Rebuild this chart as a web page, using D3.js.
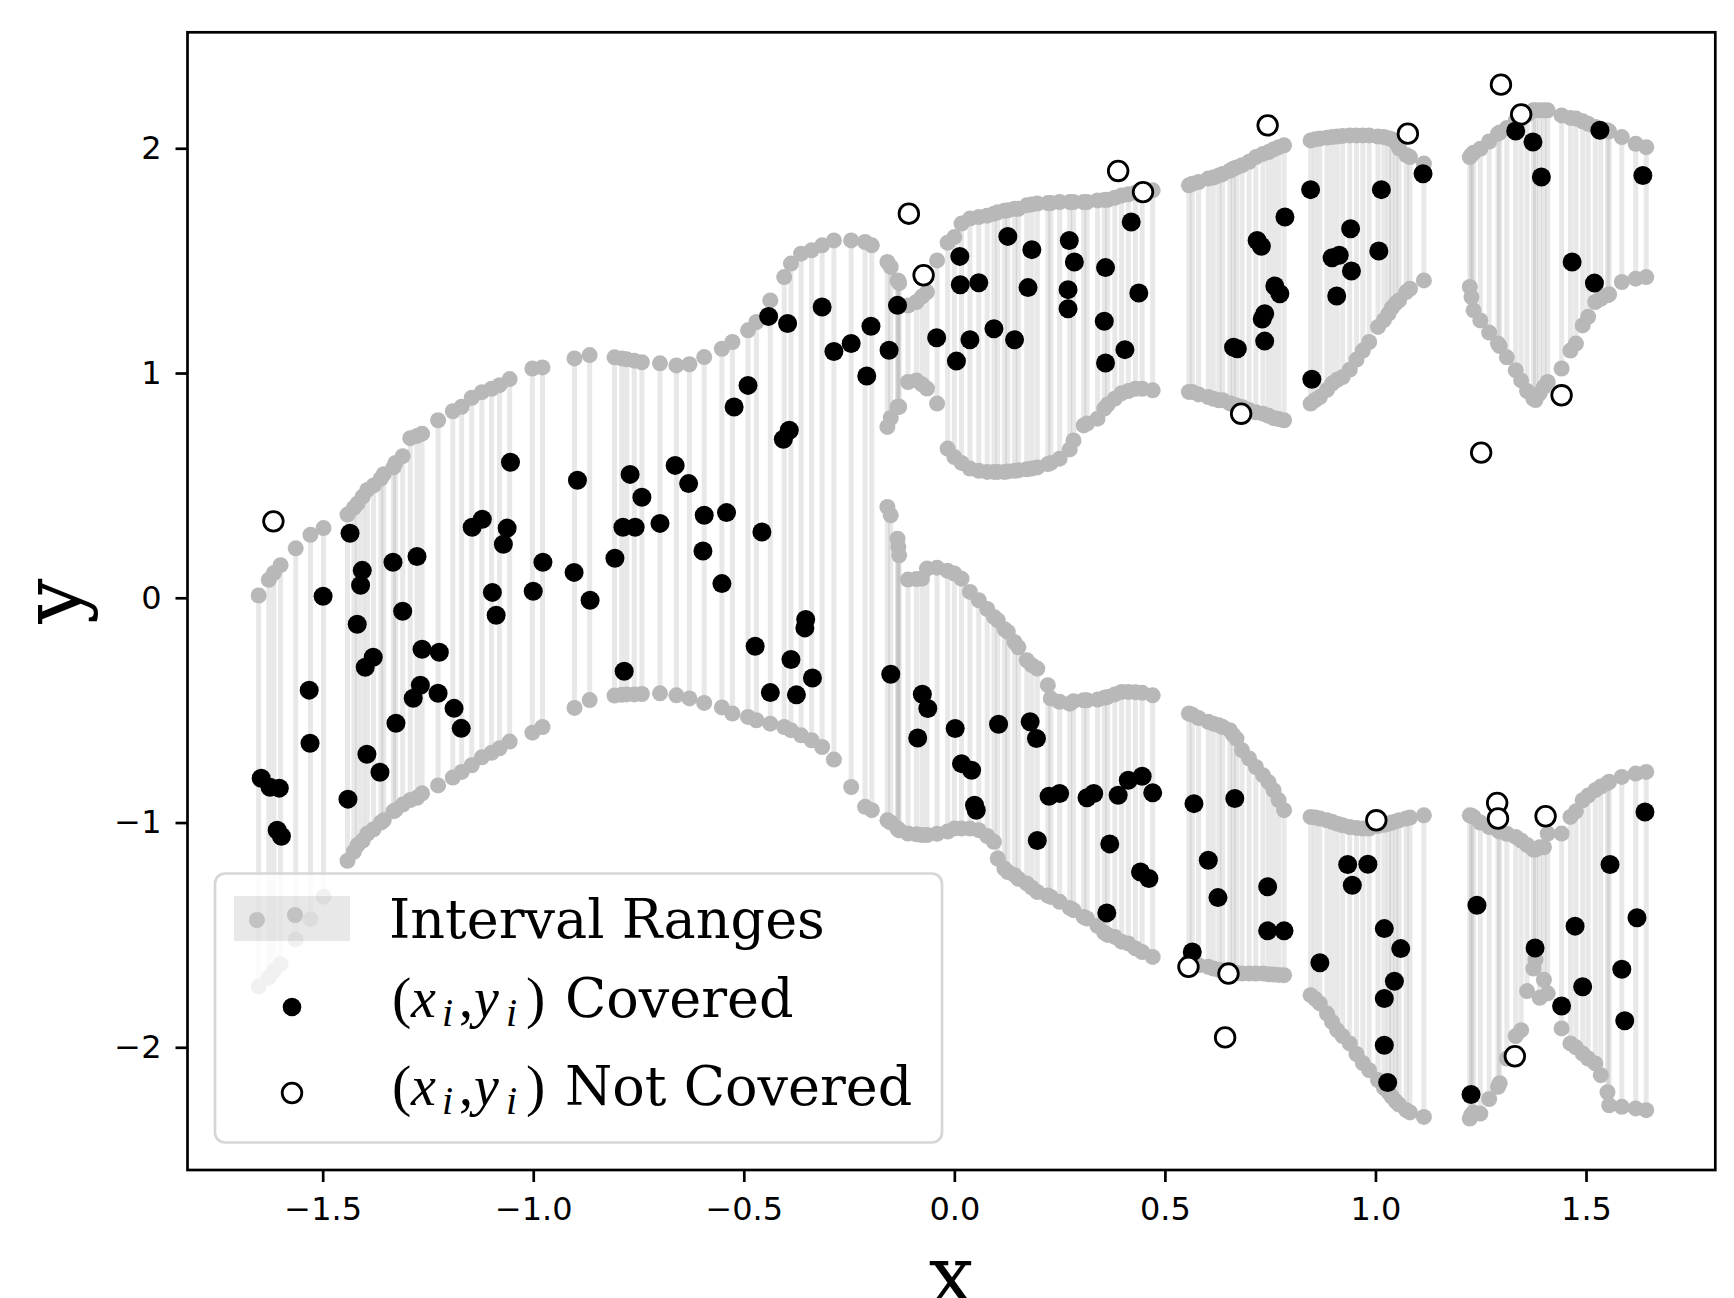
<!DOCTYPE html>
<html>
<head>
<meta charset="utf-8">
<script src="https://cdn.jsdelivr.net/npm/d3@7"></script>
<style>
  html, body { margin: 0; padding: 0; background: #fff; }
  svg { display: block; }
</style>
</head>
<body>
<div class="chart"></div>
<script>
var xTicks = [-1.5, -1.0, -0.5, 0.0, 0.5, 1.0, 1.5];
var yTicks = [-2, -1, 0, 1, 2];

// columns where the prediction set is a single interval
var singleX = [-1.652, -1.628, -1.616, -1.600, -1.564, -1.529, -1.498, -1.441, -1.426, -1.417, -1.405, -1.394, -1.379, -1.362, -1.355, -1.332, -1.327, -1.310, -1.292, -1.276, -1.264, -1.226, -1.191, -1.170, -1.146, -1.122, -1.099, -1.080, -1.056, -1.002, -0.978, -0.902, -0.866, -0.807, -0.790, -0.778, -0.760, -0.742, -0.699, -0.660, -0.629, -0.594, -0.552, -0.527, -0.490, -0.470, -0.437, -0.404, -0.388, -0.364, -0.339, -0.314, -0.286, -0.245, -0.212, -0.196];
var singleLo = [-1.73, -1.69, -1.66, -1.63, -1.52, -1.43, -1.33, -1.17, -1.13, -1.10, -1.08, -1.05, -1.03, -1.00, -0.99, -0.95, -0.945, -0.92, -0.90, -0.89, -0.87, -0.835, -0.80, -0.775, -0.745, -0.71, -0.69, -0.67, -0.64, -0.60, -0.575, -0.49, -0.455, -0.435, -0.432, -0.43, -0.43, -0.428, -0.425, -0.434, -0.448, -0.468, -0.488, -0.515, -0.53, -0.545, -0.56, -0.575, -0.589, -0.612, -0.634, -0.664, -0.72, -0.842, -0.93, -0.945];
var singleHi = [0.01, 0.08, 0.11, 0.145, 0.22, 0.28, 0.31, 0.37, 0.40, 0.42, 0.45, 0.48, 0.50, 0.53, 0.55, 0.58, 0.60, 0.63, 0.71, 0.72, 0.73, 0.79, 0.83, 0.85, 0.89, 0.915, 0.93, 0.946, 0.973, 1.02, 1.025, 1.065, 1.08, 1.07, 1.065, 1.061, 1.055, 1.048, 1.043, 1.034, 1.039, 1.071, 1.108, 1.138, 1.19, 1.227, 1.323, 1.427, 1.487, 1.531, 1.546, 1.568, 1.59, 1.59, 1.583, 1.568];

// columns where the prediction set splits into a lower and an upper interval
var splitX = [-0.159, -0.151, -0.135, -0.133, -0.131, -0.110, -0.090, -0.077, -0.065, -0.041, -0.016, 0.000, 0.017, 0.037, 0.058, 0.078, 0.094, 0.103, 0.119, 0.127, 0.143, 0.152, 0.172, 0.184, 0.197, 0.222, 0.229, 0.250, 0.274, 0.283, 0.307, 0.315, 0.340, 0.356, 0.364, 0.381, 0.397, 0.413, 0.430, 0.446, 0.471,
  0.557, 0.565, 0.580, 0.603, 0.615, 0.628, 0.637, 0.654, 0.662, 0.670, 0.683, 0.700, 0.716, 0.733, 0.746, 0.758, 0.770, 0.783,
  0.846, 0.857, 0.868, 0.885, 0.897, 0.909, 0.922, 0.939, 0.955, 0.970, 0.985, 1.006, 1.020, 1.031, 1.039, 1.048, 1.056, 1.073, 1.082, 1.115,
  1.224, 1.228, 1.233, 1.249, 1.270, 1.291, 1.295, 1.312, 1.333, 1.346, 1.360, 1.375, 1.380, 1.390, 1.400, 1.409, 1.442, 1.463, 1.476, 1.492, 1.505, 1.522, 1.535, 1.551, 1.555, 1.585, 1.618, 1.643];
var splitLowLo = [-0.99, -1.00, -1.027, -1.03, -1.035, -1.049, -1.052, -1.056, -1.056, -1.05, -1.04, -1.027, -1.027, -1.027, -1.034, -1.06, -1.086, -1.16, -1.205, -1.22, -1.234, -1.25, -1.271, -1.29, -1.309, -1.325, -1.331, -1.353, -1.38, -1.39, -1.42, -1.427, -1.46, -1.49, -1.50, -1.509, -1.53, -1.538, -1.56, -1.576, -1.598,
  -1.62, -1.63, -1.635, -1.642, -1.65, -1.655, -1.66, -1.665, -1.668, -1.67, -1.672, -1.672, -1.672, -1.672, -1.675, -1.676, -1.678, -1.679,
  -1.768, -1.785, -1.805, -1.85, -1.887, -1.924, -1.95, -1.983, -2.03, -2.07, -2.102, -2.146, -2.18, -2.20, -2.221, -2.24, -2.255, -2.28, -2.29, -2.31,
  -2.317, -2.30, -2.29, -2.295, -2.23, -2.176, -2.16, -2.05, -1.95, -1.924, -1.75, -1.65, -1.61, -1.78, -1.70, -1.76, -1.916, -1.983, -2.0, -2.028, -2.05, -2.072, -2.124, -2.2, -2.258, -2.265, -2.272, -2.28];
var splitLowHi = [0.404, 0.367, 0.263, 0.226, 0.189, 0.081, 0.083, 0.085, 0.130, 0.134, 0.12, 0.108, 0.085, 0.026, -0.011, -0.05, -0.085, -0.10, -0.14, -0.152, -0.197, -0.22, -0.278, -0.30, -0.315, -0.389, -0.448, -0.463, -0.471, -0.46, -0.456, -0.456, -0.453, -0.445, -0.441, -0.43, -0.419, -0.419, -0.42, -0.423, -0.434,
  -0.515, -0.52, -0.535, -0.552, -0.56, -0.567, -0.575, -0.589, -0.61, -0.627, -0.678, -0.715, -0.753, -0.79, -0.82, -0.856, -0.90, -0.945,
  -0.975, -0.978, -0.982, -0.99, -0.997, -1.005, -1.012, -1.02, -1.024, -1.027, -1.027, -1.015, -1.01, -1.005, -1.0, -0.995, -0.99, -0.982, -0.978, -0.968,
  -0.968, -0.97, -0.975, -1.0, -1.02, -1.034, -1.04, -1.05, -1.064, -1.08, -1.10, -1.12, -1.12, -1.11, -1.11, -1.049, -1.049, -0.975, -0.95, -0.901, -0.88, -0.856, -0.84, -0.825, -0.819, -0.797, -0.782, -0.775];
var splitUpLo = [0.76, 0.80, 0.849, 0.85, 0.85, 0.96, 0.967, 0.95, 0.931, 0.864, 0.664, 0.626, 0.60, 0.575, 0.565, 0.56, 0.56, 0.56, 0.56, 0.562, 0.565, 0.567, 0.572, 0.575, 0.58, 0.595, 0.60, 0.619, 0.66, 0.70, 0.767, 0.775, 0.797, 0.842, 0.86, 0.886, 0.91, 0.92, 0.93, 0.93, 0.923,
  0.916, 0.916, 0.905, 0.893, 0.885, 0.879, 0.879, 0.865, 0.86, 0.855, 0.849, 0.835, 0.825, 0.819, 0.81, 0.80, 0.795, 0.790,
  0.864, 0.88, 0.893, 0.925, 0.953, 0.97, 0.982, 1.015, 1.06, 1.10, 1.138, 1.205, 1.235, 1.264, 1.29, 1.31, 1.323, 1.36, 1.375, 1.412,
  1.383, 1.338, 1.279, 1.234, 1.18, 1.131, 1.12, 1.07, 1.012, 0.967, 0.92, 0.886, 0.88, 0.91, 0.938, 0.96, 1.02, 1.10, 1.131, 1.212, 1.25, 1.316, 1.33, 1.346, 1.35, 1.405, 1.42, 1.427];
var splitUpHi = [1.494, 1.472, 1.412, 1.41, 1.40, 1.30, 1.316, 1.34, 1.36, 1.501, 1.58, 1.605, 1.665, 1.687, 1.694, 1.70, 1.709, 1.715, 1.722, 1.724, 1.731, 1.731, 1.746, 1.75, 1.754, 1.756, 1.756, 1.761, 1.761, 1.761, 1.761, 1.761, 1.768, 1.77, 1.771, 1.78, 1.79, 1.795, 1.803, 1.81, 1.813,
  1.835, 1.842, 1.85, 1.865, 1.87, 1.879, 1.885, 1.90, 1.909, 1.915, 1.924, 1.94, 1.961, 1.975, 1.983, 1.995, 2.005, 2.013,
  2.035, 2.04, 2.043, 2.047, 2.05, 2.052, 2.055, 2.057, 2.057, 2.057, 2.057, 2.052, 2.05, 2.045, 2.04, 2.028, 2.0, 1.97, 1.961, 1.932,
  1.961, 1.97, 1.98, 1.998, 2.03, 2.065, 2.07, 2.09, 2.124, 2.13, 2.15, 2.169, 2.169, 2.169, 2.169, 2.169, 2.146, 2.135, 2.132, 2.12, 2.109, 2.095, 2.085, 2.08, 2.075, 2.05, 2.02, 2.005];

var covered = [
  [-1.054, 0.603], [-0.895, 0.523], [-0.770, 0.549], [-0.742, 0.447], [-0.787, 0.314], [-0.758, 0.314], [-0.699, 0.331], [-0.806, 0.176], [-0.663, 0.589],
  [-1.435, 0.287], [-1.333, 0.158], [-1.276, 0.184], [-1.406, 0.122], [-1.410, 0.056], [-1.499, 0.007], [-1.310, -0.06], [-1.418, -0.118], [-1.380, -0.265],
  [-1.399, -0.309], [-1.264, -0.229], [-1.223, -0.242], [-1.268, -0.389], [-1.285, -0.447], [-1.226, -0.425], [-1.188, -0.492], [-1.171, -0.581], [-1.532, -0.411],
  [-1.530, -0.647], [-1.326, -0.558], [-1.395, -0.696], [-1.364, -0.776], [-1.440, -0.896], [-1.646, -0.803], [-1.625, -0.843], [-1.603, -0.847], [-1.608, -1.034],
  [-1.598, -1.061], [-1.145, 0.314], [-1.121, 0.349], [-1.062, 0.310], [-1.071, 0.238], [-1.097, 0.024], [-1.088, -0.078], [-1.000, 0.029], [-0.977, 0.158],
  [-0.903, 0.113], [-0.865, -0.011], [-0.784, -0.327],
  [0.013, 1.519], [0.127, 1.608], [0.184, 1.549], [0.273, 1.590], [0.285, 1.494], [0.359, 1.469], [0.420, 1.672], [0.438, 1.356], [0.175, 1.380],
  [0.014, 1.393], [0.058, 1.402], [0.270, 1.371], [0.270, 1.286], [0.356, 1.230], [0.405, 1.104], [0.359, 1.045], [0.094, 1.197], [0.143, 1.148],
  [0.037, 1.148], [0.005, 1.053], [-0.042, 1.157], [-0.135, 1.301], [-0.198, 1.208], [-0.155, 1.101], [-0.245, 1.131], [-0.286, 1.096], [-0.208, 0.987],
  [-0.314, 1.294], [-0.396, 1.220], [-0.441, 1.252], [-0.490, 0.945], [-0.523, 0.849], [-0.392, 0.745], [-0.406, 0.705],
  [-0.631, 0.508], [-0.594, 0.367], [-0.541, 0.379], [-0.457, 0.293], [-0.597, 0.208], [-0.552, 0.063], [-0.353, -0.097], [-0.355, -0.134], [-0.473, -0.216],
  [-0.388, -0.275], [-0.337, -0.357], [-0.437, -0.422], [-0.375, -0.432], [-0.151, -0.340], [-0.076, -0.429], [-0.063, -0.493], [-0.087, -0.624], [0.002, -0.582],
  [0.105, -0.563], [0.180, -0.552], [0.195, -0.626], [0.017, -0.738], [0.041, -0.767], [0.048, -0.923], [0.052, -0.945], [0.225, -0.883], [0.250, -0.871],
  [0.315, -0.890], [0.331, -0.871], [0.389, -0.879], [0.413, -0.812], [0.446, -0.794], [0.471, -0.868], [0.569, -0.916], [0.197, -1.080], [0.369, -1.095],
  [0.442, -1.220], [0.462, -1.249], [0.362, -1.402], [0.565, -1.576],
  [0.846, 1.816], [1.014, 1.816], [1.113, 1.887], [0.785, 1.694], [0.941, 1.642], [0.719, 1.590], [0.729, 1.564], [1.008, 1.543], [0.897, 1.513],
  [0.914, 1.524], [0.943, 1.454], [0.908, 1.343], [0.761, 1.387], [0.773, 1.353], [0.737, 1.264], [0.731, 1.240], [0.737, 1.142], [0.672, 1.108],
  [0.663, 1.115], [0.849, 0.972], [1.333, 2.077], [1.374, 2.028], [1.394, 1.872], [1.533, 2.080], [1.635, 1.879], [1.467, 1.494], [1.520, 1.400],
  [0.666, -0.893], [1.640, -0.953], [0.603, -1.168], [0.626, -1.334], [0.744, -1.286], [0.744, -1.482], [0.783, -1.482], [0.868, -1.624], [0.934, -1.187],
  [0.982, -1.186], [0.945, -1.279], [1.021, -1.472], [1.060, -1.561], [1.045, -1.706], [1.021, -1.783], [1.021, -1.991], [1.029, -2.157], [1.241, -1.368],
  [1.227, -2.210], [1.379, -1.558], [1.474, -1.461], [1.442, -1.816], [1.492, -1.731], [1.557, -1.187], [1.621, -1.424], [1.585, -1.653], [1.592, -1.882]
];

var notCovered = [
  [-1.617, 0.340], [-0.108, 1.709], [-0.073, 1.435], [0.389, 1.899], [0.448, 1.805], [0.744, 2.102], [1.077, 2.065], [1.298, 2.283], [1.346, 2.151],
  [1.442, 0.901], [0.681, 0.819], [1.251, 0.646], [1.289, -0.913], [1.291, -0.982], [1.404, -0.972], [1.002, -0.990], [0.556, -1.642], [0.651, -1.672],
  [0.643, -1.956], [1.331, -2.040]
];

var legendLabels = ["Interval Ranges", "Covered", "Not Covered"];

var width = 1734;
var height = 1298;
var plotLeft = 187.5, plotRight = 1715.3, plotTop = 32.3, plotBottom = 1170;

var x = d3.scaleLinear().domain([-1.821, 1.807]).range([plotLeft, plotRight]);
var y = d3.scaleLinear().domain([-2.546, 2.516]).range([plotBottom, plotTop]);

var segments = [];
singleX.forEach(function(v, i) {
    segments.push({ x: v, lo: singleLo[i], hi: singleHi[i] });
});
splitX.forEach(function(v, i) {
    segments.push({ x: v, lo: splitLowLo[i], hi: splitLowHi[i] });
    segments.push({ x: v, lo: splitUpLo[i], hi: splitUpHi[i] });
});

var ends = [];
segments.forEach(function(s) {
    ends.push({ x: s.x, y: s.lo });
    ends.push({ x: s.x, y: s.hi });
});

var svg = d3.select(".chart").append("svg")
    .attr("width", width)
    .attr("height", height);

svg.append("rect")
    .attr("width", width)
    .attr("height", height)
    .attr("fill", "#fff");

svg.append("g").selectAll("line")
    .data(segments)
    .enter().append("line")
    .attr("x1", function(d) { return x(d.x); })
    .attr("x2", function(d) { return x(d.x); })
    .attr("y1", function(d) { return y(d.lo); })
    .attr("y2", function(d) { return y(d.hi); })
    .attr("stroke", "#808080")
    .attr("stroke-opacity", 0.18)
    .attr("stroke-width", 5);

svg.append("g").selectAll("circle")
    .data(ends)
    .enter().append("circle")
    .attr("cx", function(d) { return x(d.x); })
    .attr("cy", function(d) { return y(d.y); })
    .attr("r", 8)
    .attr("fill", "#b8b8b8");

svg.append("g").selectAll("circle")
    .data(covered)
    .enter().append("circle")
    .attr("cx", function(d) { return x(d[0]); })
    .attr("cy", function(d) { return y(d[1]); })
    .attr("r", 9.5)
    .attr("fill", "#000");

svg.append("g").selectAll("circle")
    .data(notCovered)
    .enter().append("circle")
    .attr("cx", function(d) { return x(d[0]); })
    .attr("cy", function(d) { return y(d[1]); })
    .attr("r", 9.8)
    .attr("fill", "#fff")
    .attr("stroke", "#000")
    .attr("stroke-width", 2.8);

// axes
var xAxis = d3.axisBottom(x)
    .tickValues(xTicks)
    .tickFormat(d3.format(".1f"))
    .tickSize(12)
    .tickSizeOuter(0)
    .tickPadding(15);

var yAxis = d3.axisLeft(y)
    .tickValues(yTicks)
    .tickFormat(d3.format("d"))
    .tickSize(12)
    .tickSizeOuter(0)
    .tickPadding(14);

var gx = svg.append("g")
    .attr("transform", "translate(0," + plotBottom + ")")
    .call(xAxis);
var gy = svg.append("g")
    .attr("transform", "translate(" + plotLeft + ",0)")
    .call(yAxis);

[gx, gy].forEach(function(g) {
    g.select(".domain").remove();
    g.selectAll(".tick line").attr("stroke", "#000").attr("stroke-width", 2.7);
    g.selectAll(".tick text")
        .attr("fill", "#000")
        .style("font-family", "'DejaVu Sans', sans-serif")
        .style("font-size", "32px");
});

svg.append("rect")
    .attr("x", plotLeft)
    .attr("y", plotTop)
    .attr("width", plotRight - plotLeft)
    .attr("height", plotBottom - plotTop)
    .attr("fill", "none")
    .attr("stroke", "#000")
    .attr("stroke-width", 2.7);

svg.append("text")
    .attr("x", (plotLeft + plotRight) / 2)
    .attr("y", 1303)
    .attr("text-anchor", "middle")
    .style("font-family", "'DejaVu Serif', serif")
    .style("font-size", "80px")
    .text("x");

svg.append("text")
    .attr("transform", "translate(80," + (plotTop + plotBottom) / 2 + ") rotate(-90)")
    .attr("text-anchor", "middle")
    .style("font-family", "'DejaVu Serif', serif")
    .style("font-size", "80px")
    .text("y");

// legend
var legend = svg.append("g");

legend.append("rect")
    .attr("x", 215)
    .attr("y", 873.5)
    .attr("width", 727)
    .attr("height", 269)
    .attr("rx", 10)
    .attr("fill", "#fff")
    .attr("fill-opacity", 0.8)
    .attr("stroke", "#d6d6d6")
    .attr("stroke-width", 2.7);

legend.append("rect")
    .attr("x", 234)
    .attr("y", 896)
    .attr("width", 116)
    .attr("height", 45)
    .attr("fill", "#808080")
    .attr("fill-opacity", 0.18);

legend.selectAll(".hdot")
    .data([[257, 920], [295, 915]])
    .enter().append("circle")
    .attr("cx", function(d) { return d[0]; })
    .attr("cy", function(d) { return d[1]; })
    .attr("r", 8)
    .attr("fill", "#c2c2c2");

legend.append("circle")
    .attr("cx", 292)
    .attr("cy", 1007)
    .attr("r", 9.3)
    .attr("fill", "#000");

legend.append("circle")
    .attr("cx", 292)
    .attr("cy", 1093)
    .attr("r", 9.8)
    .attr("fill", "#fff")
    .attr("stroke", "#000")
    .attr("stroke-width", 2.8);

var serif = "'DejaVu Serif', serif";
var mathFont = "'Liberation Serif', 'DejaVu Serif', serif";

legend.append("text")
    .attr("x", 389)
    .attr("y", 938)
    .style("font-family", serif)
    .style("font-size", "54px")
    .text(legendLabels[0]);

var mathParts = [
    { t: "(", dx: 392, dy: 0, size: 58, italic: false },
    { t: "x", dx: 411, dy: 0, size: 56, italic: true },
    { t: "i", dx: 442, dy: 9, size: 40, italic: true },
    { t: ",", dx: 459, dy: 0, size: 56, italic: false },
    { t: "y", dx: 474, dy: 0, size: 56, italic: true },
    { t: "i", dx: 506, dy: 9, size: 40, italic: true },
    { t: ")", dx: 526, dy: 0, size: 58, italic: false }
];

[[1017, legendLabels[1]], [1105, legendLabels[2]]].forEach(function(row) {
    var base = row[0];
    mathParts.forEach(function(p) {
        legend.append("text")
            .attr("x", p.dx)
            .attr("y", base + p.dy)
            .style("font-family", mathFont)
            .style("font-style", p.italic ? "italic" : "normal")
            .style("font-size", p.size + "px")
            .text(p.t);
    });
    legend.append("text")
        .attr("x", 565)
        .attr("y", base)
        .style("font-family", serif)
        .style("font-size", "54px")
        .text(row[1]);
});
</script>
</body>
</html>
